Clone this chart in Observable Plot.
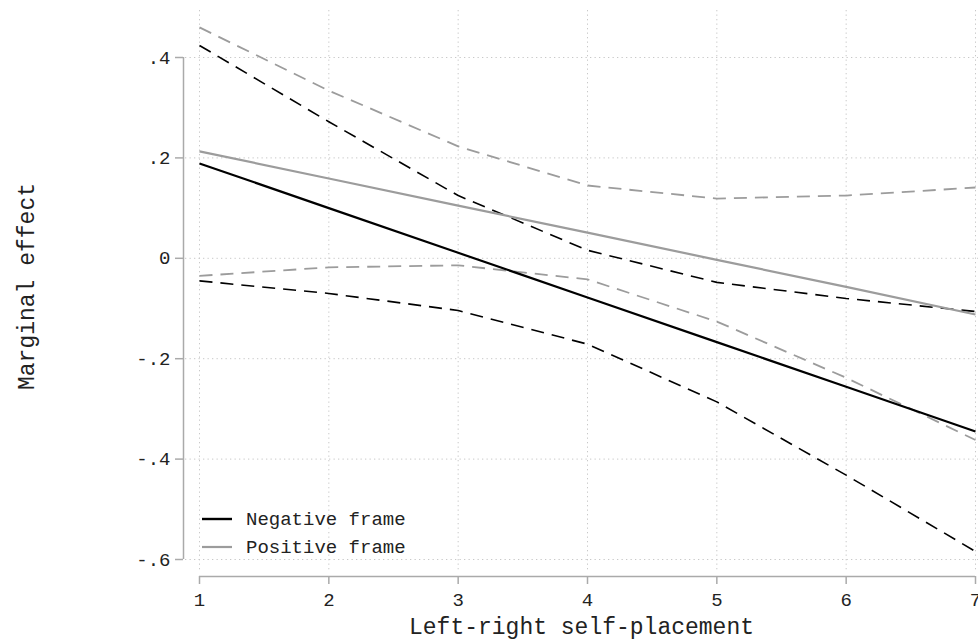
<!DOCTYPE html>
<html><head><meta charset="utf-8">
<script src="https://cdn.jsdelivr.net/npm/d3@7"></script>
<script src="https://cdn.jsdelivr.net/npm/@observablehq/plot@0.6"></script>
<style>body{margin:0;background:#fff} svg{display:block}</style>
</head><body><div id="chart"></div>
<script>
// ---- data ----
const xTicks = [1, 2, 3, 4, 5, 6, 7];
const xTickLabels = ["1", "2", "3", "4", "5", "6", "7"];
const yTicks = [-0.6, -0.4, -0.2, 0, 0.2, 0.4];
const yTickLabels = ["-.6", "-.4", "-.2", "0", ".2", ".4"];
const negEst = [0.189, 0.100, 0.011, -0.078, -0.167, -0.256, -0.345];
const negHi  = [0.424, 0.272, 0.125, 0.016, -0.048, -0.080, -0.106];
const negLo  = [-0.045, -0.070, -0.104, -0.171, -0.286, -0.432, -0.584];
const posEst = [0.213, 0.159, 0.105, 0.051, -0.003, -0.057, -0.112];
const posHi  = [0.460, 0.334, 0.223, 0.145, 0.119, 0.125, 0.141];
const posLo  = [-0.035, -0.018, -0.014, -0.042, -0.126, -0.238, -0.362];
const legendLabels = ["Negative frame", "Positive frame"];
const xTitle = "Left-right self-placement";
const yTitle = "Marginal effect";

// ---- styles ----
const BLACK = "#000";
const GRAY = "#9c9c9c";
const AXIS = "#aaaaaa";
const GRID = "#c8c8c8";
const TEXT = "#222";
const FONT = "'Liberation Mono', 'DejaVu Sans Mono', monospace";

const series = [
  {values: negLo, color: BLACK, dash: "13,8", width: 1.6},
  {values: negHi, color: BLACK, dash: "13,8", width: 1.6},
  {values: posLo, color: GRAY, dash: "13,8", width: 1.8},
  {values: posHi, color: GRAY, dash: "13,8", width: 1.8},
  {values: negEst, color: BLACK, dash: null, width: 2.2},
  {values: posEst, color: GRAY, dash: null, width: 2.2}
];

const lineMarks = series.map(s =>
  Plot.line(xTicks.map((x, i) => ({x, y: s.values[i]})), {
    x: "x", y: "y", stroke: s.color, strokeWidth: s.width,
    strokeDasharray: s.dash, strokeLinecap: "butt", strokeLinejoin: "round"
  })
);

const plot = Plot.plot({
  width: 978, height: 642,
  marginLeft: 199, marginRight: 3, marginTop: 57, marginBottom: 83,
  x: {domain: [1, 7], label: null},
  y: {domain: [-0.6, 0.4], label: null},
  style: {fontFamily: FONT, fontSize: "19px", color: TEXT, background: "#fff"},
  marks: [
    Plot.gridX(xTicks, {insetTop: -47, insetBottom: -11, stroke: GRID, strokeOpacity: 1, strokeDasharray: "1.3,3.2"}),
    Plot.gridY(yTicks, {insetLeft: -14, insetRight: -3, stroke: GRID, strokeOpacity: 1, strokeDasharray: "1.3,3.2"}),
    // y axis
    Plot.ruleX([xTicks[0]], {y1: yTicks[0], y2: yTicks[yTicks.length - 1], dx: -16, stroke: AXIS, strokeWidth: 1.5}),
    Plot.axisY(yTicks, {color: AXIS, tickSize: 8, dx: -16, tickFormat: () => "", strokeWidth: 1.5, label: null}),
    Plot.axisY(yTicks, {tickSize: 0, tickPadding: 13, dx: -16, fill: TEXT, label: null,
      tickFormat: d => yTickLabels[yTicks.indexOf(d)]}),
    // x axis
    Plot.ruleY([yTicks[0]], {x1: xTicks[0], x2: xTicks[xTicks.length - 1], dy: 17, stroke: AXIS, strokeWidth: 1.5}),
    Plot.axisX(xTicks, {color: AXIS, tickSize: 8, dy: 17, tickFormat: () => "", strokeWidth: 1.5, label: null}),
    Plot.axisX(xTicks, {tickSize: 0, tickPadding: 16, dy: 17, fill: TEXT, label: null,
      tickFormat: d => xTickLabels[xTicks.indexOf(d)]}),
    // titles
    Plot.text([xTitle], {text: d => d, frameAnchor: "bottom", dx: -6, dy: 67, lineAnchor: "middle",
      fontSize: 23, fill: TEXT}),
    Plot.text([yTitle], {text: d => d, frameAnchor: "left", dx: -173, dy: -22, rotate: -90,
      lineAnchor: "middle", textAnchor: "middle", fontSize: 23, fill: TEXT}),
    ...lineMarks
  ]
});

document.getElementById("chart").appendChild(plot);

// legend (inside plot region, lower-left)
const sx = plot.scale("x"), sy = plot.scale("y");
const left = sx.apply(xTicks[0]);
const bottom = sy.apply(yTicks[0]);
const svg = d3.select(plot);
const lg = svg.append("g").attr("font-family", FONT).attr("font-size", 19).attr("text-anchor", "start");
const legendStyles = [{color: BLACK, w: 2.4, off: 40}, {color: GRAY, w: 2.2, off: 12}];
legendLabels.forEach((lab, i) => {
  const st = legendStyles[i];
  const yy = bottom - st.off;
  lg.append("line").attr("x1", left + 3).attr("x2", left + 33).attr("y1", yy).attr("y2", yy)
    .attr("stroke", st.color).attr("stroke-width", st.w);
  lg.append("text").attr("x", left + 47).attr("y", yy).attr("dy", "0.32em")
    .attr("text-anchor", "start").attr("fill", TEXT).text(lab);
});
</script>
</body></html>
